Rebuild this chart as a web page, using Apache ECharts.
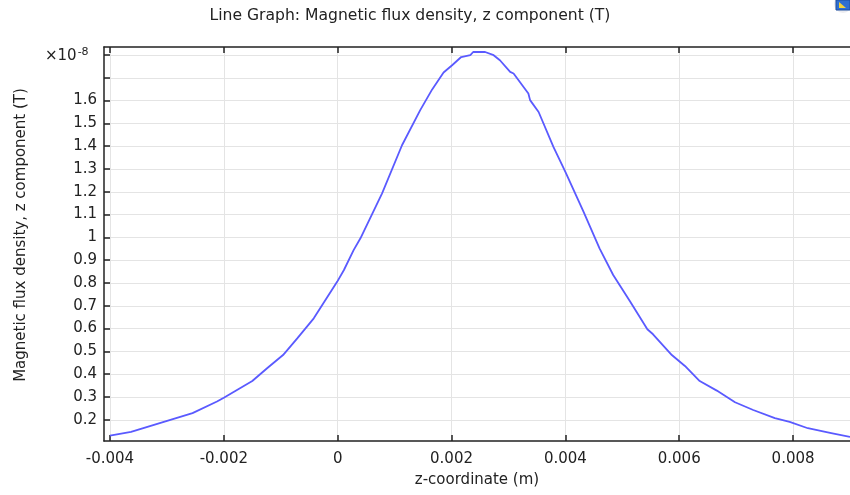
<!DOCTYPE html>
<html>
<head>
<meta charset="utf-8">
<script src="https://cdn.jsdelivr.net/npm/echarts@6/dist/echarts.min.js"></script>
<style>
html,body{margin:0;padding:0;background:#fff;}
#chart{width:850px;height:495px;}
</style>
</head>
<body>
<div id="chart"></div>
<script>
// z-coordinate (m)
const zCoord = [-0.00400, -0.00363, -0.00255, -0.00212, -0.00200, -0.00150, -0.00124, -0.00096,
  -0.00071, -0.00042, -0.00001, 0.00011, 0.00028, 0.00040, 0.00078, 0.00113, 0.00145, 0.00166,
  0.00186, 0.00201, 0.00217, 0.00233, 0.00238, 0.00259, 0.00274, 0.00285, 0.00303, 0.00309,
  0.00335, 0.00338, 0.00353, 0.00379, 0.00400, 0.00432, 0.00460, 0.00484, 0.00514, 0.00544,
  0.00554, 0.00587, 0.00610, 0.00636, 0.00666, 0.00698, 0.00730, 0.00768, 0.00794, 0.00826,
  0.00867, 0.00900];
// Magnetic flux density, z component, in units of 1e-8 T
const bzE8 = [0.131, 0.147, 0.229, 0.280, 0.297, 0.370, 0.426, 0.484,
  0.557, 0.645, 0.805, 0.857, 0.944, 0.996, 1.193, 1.404, 1.558, 1.649,
  1.723, 1.755, 1.791, 1.799, 1.813, 1.813, 1.799, 1.777, 1.726, 1.719,
  1.631, 1.602, 1.550, 1.397, 1.287, 1.112, 0.952, 0.835, 0.718, 0.597,
  0.575, 0.484, 0.436, 0.370, 0.328, 0.277, 0.243, 0.207, 0.191, 0.163,
  0.142, 0.125];
const xTicks = [-0.004, -0.002, 0, 0.002, 0.004, 0.006, 0.008];
const yTicks = [0.2, 0.3, 0.4, 0.5, 0.6, 0.7, 0.8, 0.9, 1.0, 1.1, 1.2, 1.3, 1.4, 1.5, 1.6, 1.7, 1.8];
const yLabelMax = 1.6;
const yScaleLabel = '-8';
const titleText = 'Line Graph: Magnetic flux density, z component (T)';
const xName = 'z-coordinate (m)';
const yName = 'Magnetic flux density, z component (T)';

const FONT = 'DejaVu Sans';
const data = zCoord.map((z, i) => [z, bzE8[i]]);
const xMin = -0.004105, xMax = 0.009;
const yMin = 0.107, yMax = 1.835;
const axisColor = '#222';
const gridColor = '#e4e4e4';
const textColor = '#222';

const chart = echarts.init(document.getElementById('chart'), null, {renderer: 'canvas'});
chart.setOption({
  animation: false,
  backgroundColor: '#fff',
  textStyle: {fontFamily: FONT},
  grid: {left: 104, top: 47, right: 0, bottom: 54, containLabel: false},
  xAxis: [{
    type: 'value', min: xMin, max: xMax, position: 'bottom',
    name: xName, nameLocation: 'middle', nameGap: 32,
    nameTextStyle: {fontFamily: FONT, fontSize: 15, color: textColor},
    axisLine: {show: true, onZero: false, lineStyle: {color: axisColor, width: 1.5}},
    axisTick: {show: true, inside: true, length: 6, customValues: xTicks, lineStyle: {color: axisColor, width: 1.5}},
    axisLabel: {customValues: xTicks, margin: 11, fontFamily: FONT, fontSize: 15, color: textColor,
      formatter: v => String(Number(v.toFixed(6)))},
    splitLine: {show: true, lineStyle: {color: gridColor, width: 1}}
  }, {
    type: 'value', min: xMin, max: xMax, position: 'top',
    axisLine: {show: true, onZero: false, lineStyle: {color: axisColor, width: 1.5}},
    axisTick: {show: true, inside: true, length: 6, customValues: xTicks, lineStyle: {color: axisColor, width: 1.5}},
    axisLabel: {show: false},
    splitLine: {show: false}
  }],
  yAxis: [{
    type: 'value', min: yMin, max: yMax, position: 'left',
    axisLine: {show: true, onZero: false, lineStyle: {color: axisColor, width: 1.5}},
    axisTick: {show: true, inside: true, length: 6, customValues: yTicks, lineStyle: {color: axisColor, width: 1.5}},
    axisLabel: {customValues: yTicks, margin: 7, fontFamily: FONT, fontSize: 15, color: textColor,
      formatter: v => (v > yLabelMax + 0.01 ? '' : String(Number(v.toFixed(3))))},
    splitLine: {show: true, lineStyle: {color: gridColor, width: 1}}
  }],
  graphic: [
    {type: 'text', x: 410, y: 16, style: {
      text: titleText, fontFamily: FONT, fontSize: 15.6, fill: textColor,
      align: 'center', verticalAlign: 'middle'
    }},
    {type: 'text', x: 21, y: 235, rotation: Math.PI / 2, style: {
      text: yName, fontFamily: FONT, fontSize: 15, fill: textColor,
      align: 'center', verticalAlign: 'middle'
    }},
    {type: 'text', left: 45, top: 47, style: {
      text: '×10{s|' + yScaleLabel + '}', fontFamily: FONT, fontSize: 15, fill: textColor,
      rich: {s: {fontSize: 11, fontFamily: FONT, verticalAlign: 'top', padding: [0, 0, 8, 1], fill: textColor}}
    }},
    {type: 'circle', shape: {cx: 843, cy: 4, r: 9}, style: {fill: '#ececf0'}},
    {type: 'rect', shape: {x: 836, y: 0, width: 14, height: 10}, style: {fill: '#2f6fd0', stroke: '#1d4fa0', lineWidth: 1}},
    {type: 'polygon', shape: {points: [[839, 8], [839, 2], [846, 8]]}, style: {fill: '#f2d23a'}}
  ],
  series: [{
    type: 'line', data: data, xAxisIndex: 0, yAxisIndex: 0,
    showSymbol: false, smooth: false,
    lineStyle: {color: '#5a5aff', width: 1.8},
    clip: true
  }]
});
</script>
</body>
</html>
